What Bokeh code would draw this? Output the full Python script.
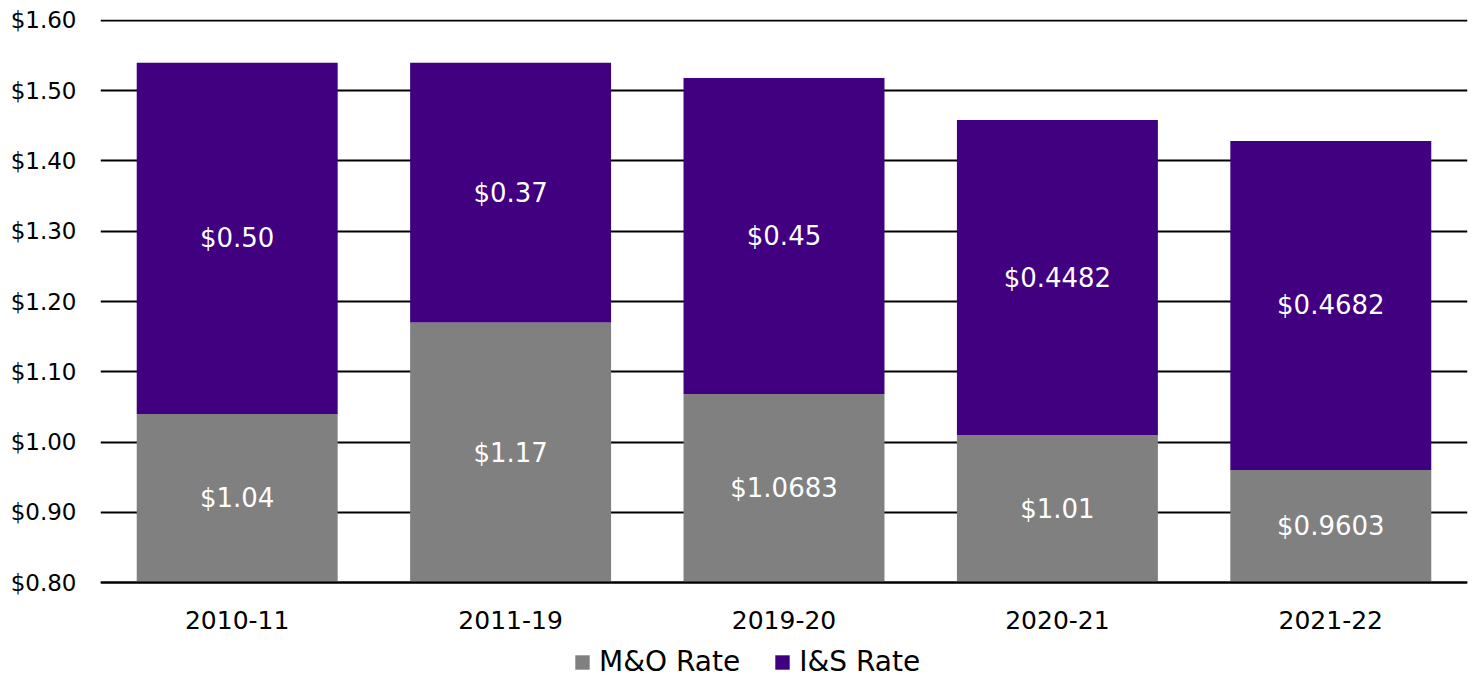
from bokeh.plotting import figure
from bokeh.models import ColumnDataSource, FixedTicker, PrintfTickFormatter, Legend, LegendItem, FactorRange, Range1d
from bokeh.core.properties import value
from bokeh.embed import file_html
from bokeh.resources import INLINE

years = ["2010-11", "2011-19", "2019-20", "2020-21", "2021-22"]
mo_rate = [1.04, 1.17, 1.0683, 1.01, 0.9603]
is_rate = [0.50, 0.37, 0.45, 0.4482, 0.4682]
mo_labels = ["$1.04", "$1.17", "$1.0683", "$1.01", "$0.9603"]
is_labels = ["$0.50", "$0.37", "$0.45", "$0.4482", "$0.4682"]
y_ticks = [0.8, 0.9, 1.0, 1.1, 1.2, 1.3, 1.4, 1.5, 1.6]

FONT = "DejaVu Sans"
GRAY = "#808080"
PURPLE = "#400080"
BASE = 0.8            # visible axis baseline
Y_LO, Y_HI = 0.662, 1.6014   # frame extends below baseline to host legend

src = ColumnDataSource(dict(
    years=years, mo=mo_rate, is_=is_rate,
    base=[BASE] * len(years),
    tot=[m + i for m, i in zip(mo_rate, is_rate)],
    mo_lab=mo_labels, is_lab=is_labels,
    mo_y=[(BASE + m) / 2 for m in mo_rate],
    is_y=[m + i / 2 for m, i in zip(mo_rate, is_rate)],
))

p = figure(x_range=FactorRange(*years, range_padding=0), y_range=Range1d(Y_LO, Y_HI),
           width=1473, height=679, output_backend="svg", toolbar_location=None,
           min_border_left=100, min_border_right=6, min_border_top=19, min_border_bottom=0)
p.outline_line_color = None
p.background_fill_color = "white"

r_mo = p.vbar(x="years", bottom="base", top="mo", width=0.735, source=src,
              color=GRAY, line_color=None)
r_is = p.vbar(x="years", bottom="mo", top="tot", width=0.735, source=src,
              color=PURPLE, line_color=None)

p.text(x="years", y="mo_y", text="mo_lab", source=src, text_color="white",
       text_align="center", text_baseline="middle", text_font=value(FONT), text_font_size="26px")
p.text(x="years", y="is_y", text="is_lab", source=src, text_color="white",
       text_align="center", text_baseline="middle", text_font=value(FONT), text_font_size="26px")

p.xgrid.grid_line_color = None
p.ygrid.grid_line_color = "black"
p.ygrid.grid_line_width = 1.8
p.ygrid.ticker = FixedTicker(ticks=y_ticks)
p.ygrid.level = "underlay"

p.yaxis.ticker = FixedTicker(ticks=y_ticks)
p.yaxis.formatter = PrintfTickFormatter(format="$%.2f")
p.yaxis.axis_line_color = None
p.yaxis.major_tick_line_color = None
p.yaxis.minor_tick_line_color = None
p.yaxis.major_label_text_font = FONT
p.yaxis.major_label_text_font_size = "23px"
p.yaxis.major_label_text_color = "black"
p.yaxis.major_label_standoff = 18

p.xaxis.fixed_location = BASE
p.xaxis.axis_line_color = "black"
p.xaxis.axis_line_width = 2
p.xaxis.major_tick_line_color = None
p.xaxis.minor_tick_line_color = None
p.xaxis.major_label_text_font = FONT
p.xaxis.major_label_text_font_size = "25px"
p.xaxis.major_label_text_color = "black"
p.xaxis.major_label_standoff = 22

legend = Legend(items=[LegendItem(label="M&O Rate", renderers=[r_mo]),
                       LegendItem(label="I&S Rate", renderers=[r_is])],
                orientation="horizontal", location=(473, 1),
                label_text_font=FONT, label_text_font_size="28px", label_text_color="black",
                glyph_width=18, glyph_height=18, spacing=33, padding=0, margin=0,
                border_line_color=None, background_fill_alpha=0, label_standoff=8)
p.add_layout(legend, "center")

open("out.html", "w").write(file_html(p, INLINE))
